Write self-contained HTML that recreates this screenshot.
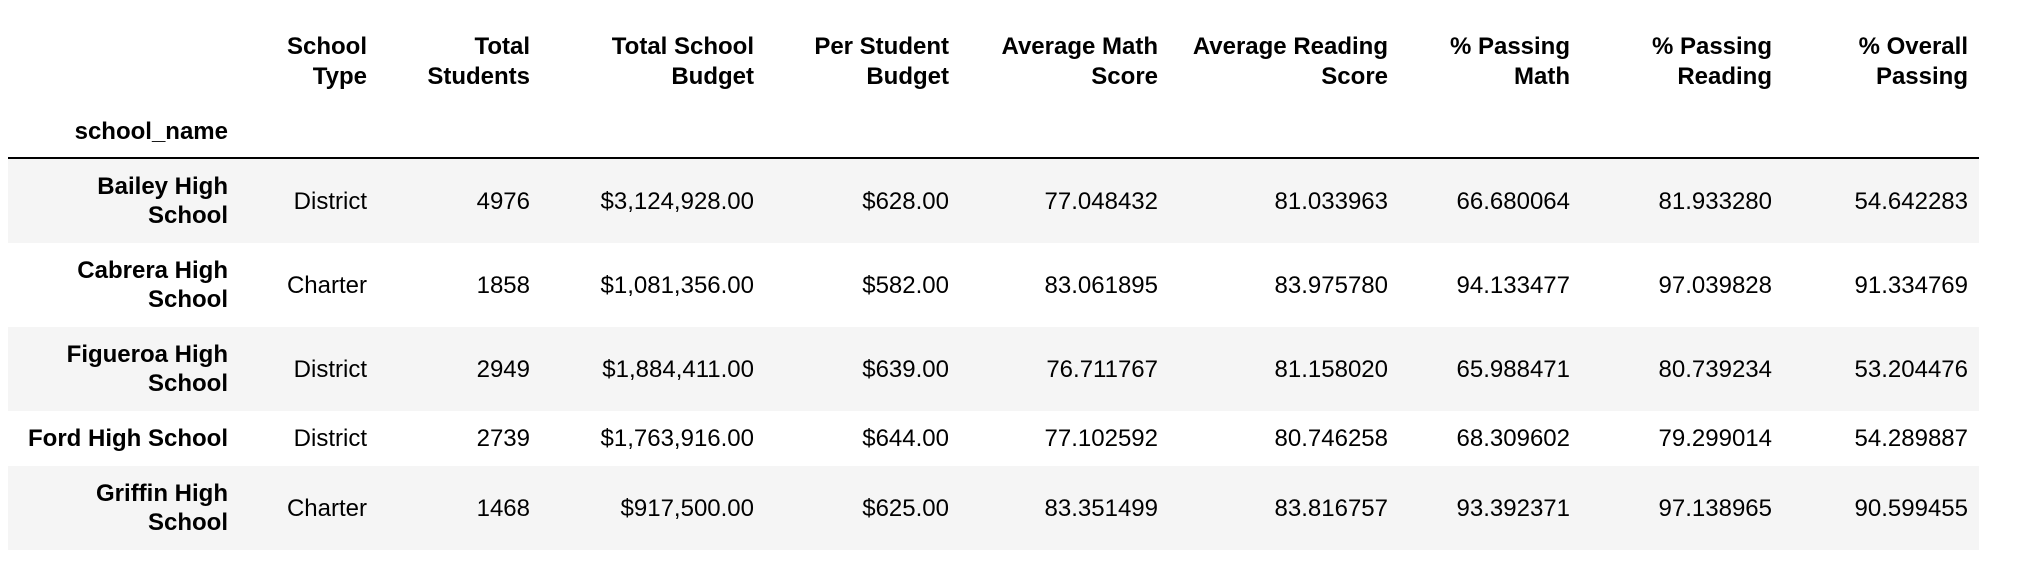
<!DOCTYPE html>
<html><head><meta charset="utf-8"><style>
body{margin:0;width:2020px;height:566px;background:#fff;overflow:hidden;font-family:"Liberation Sans",Arial,sans-serif;color:#000;position:relative}
.t{position:absolute;white-space:nowrap;text-align:right;font-size:24px;line-height:29px}
.b{font-weight:bold}
.row{position:absolute;left:8px;width:1971px}
</style></head><body>
<div style="position:absolute;left:8px;top:157px;width:1971px;height:2px;background:#000"></div>
<script>
const headers=[["School","Type"],["Total","Students"],["Total School","Budget"],["Per Student","Budget"],["Average Math","Score"],["Average Reading","Score"],["% Passing","Math"],["% Passing","Reading"],["% Overall","Passing"]];
const schools=[["Bailey High","School"],["Cabrera High","School"],["Figueroa High","School"],["Ford High School"],["Griffin High","School"]];
const types=["District","Charter","District","District","Charter"];
const students=["4976","1858","2949","2739","1468"];
const budgets=["$3,124,928.00","$1,081,356.00","$1,884,411.00","$1,763,916.00","$917,500.00"];
const perStudent=["$628.00","$582.00","$639.00","$644.00","$625.00"];
const avgMath=["77.048432","83.061895","76.711767","77.102592","83.351499"];
const avgReading=["81.033963","83.975780","81.158020","80.746258","83.816757"];
const passMath=["66.680064","94.133477","65.988471","68.309602","93.392371"];
const passReading=["81.933280","97.039828","80.739234","79.299014","97.138965"];
const passOverall=["54.642283","91.334769","53.204476","54.289887","90.599455"];
const colRight=[367,530,754,949,1158,1388,1570,1772,1968];
const nameRight=228;
const rowTop=[159,243,327,411,466];
const rowH=[84,84,84,55,84];
function txt(s,right,cy,bold,name){
  const d=document.createElement('div');
  d.className='t'+(bold?' b':'');
  d.textContent=s;
  d.style.right=(2020-right)+'px';
  d.style.top=(cy-14.5)+'px';
  
  
  document.body.appendChild(d);
}
headers.forEach((h,i)=>{txt(h[0],colRight[i],46,true,'column-header');txt(h[1],colRight[i],76,true,'column-header');});
txt('school_name',nameRight,131,true,'index-header');
const cols=[types,students,budgets,perStudent,avgMath,avgReading,passMath,passReading,passOverall];
schools.forEach((s,r)=>{
  const cy=rowTop[r]+rowH[r]/2;
  if(r%2===0){
    const bg=document.createElement('div');
    bg.className='row';
    bg.style.top=rowTop[r]+'px';bg.style.height=rowH[r]+'px';bg.style.background='#f5f5f5';
    
    
    document.body.appendChild(bg);
  }
  if(s.length===2){txt(s[0],nameRight,cy-14.5,true,'school-name');txt(s[1],nameRight,cy+14.5,true,'school-name');}
  else txt(s[0],nameRight,cy,true,'school-name');
  cols.forEach((c,i)=>txt(c[r],colRight[i],cy,false,'table-cell'));
});
</script>
</body></html>
